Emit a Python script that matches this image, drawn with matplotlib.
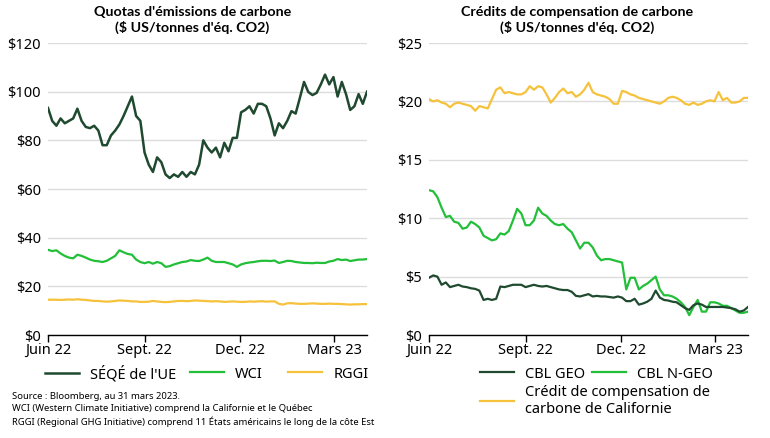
import numpy as np
import pandas as pd
import matplotlib
matplotlib.use("Agg")
import matplotlib.pyplot as plt

plt.rcParams['font.family'] = ['Noto Sans', 'DejaVu Sans']

# Grille de dates commune (tous les 4 jours, juin 2022 -> mars 2023)
dates = pd.date_range("2022-06-01", periods=77, freq="4D")

# Quotas d'émissions ($ US/t)
seqe_ue = [93.3, 88, 86, 89, 87, 88, 89, 93, 88, 85.5, 85, 86, 84, 78, 78, 82, 84, 86.5, 90, 94,
           98, 90, 88, 75, 70, 67, 73, 71, 66, 64.5, 66, 65, 67, 65, 67, 66, 70, 80, 77, 75,
           77, 73, 79, 75.5, 81, 81, 91.5, 92.5, 94, 91, 95, 95, 94, 89, 82, 87, 85, 88, 92, 91,
           97.4, 104, 99.9, 98.6, 99.5, 103, 107, 103, 106, 98, 104, 99, 92.5, 94, 99, 95, 100]
wci = [35, 34.5, 34.8, 33.5, 32.5, 31.8, 31.5, 33, 32.5, 31.8, 31, 30.5, 30.3, 30, 30.5, 31.5,
       32.5, 34.8, 34, 33.3, 33, 31, 30, 29.5, 30, 29.3, 30, 29.5, 28, 28.3, 29, 29.5, 30, 30.2,
       30.8, 30.5, 30.4, 31, 31.8, 30.5, 30, 30, 30, 29.5, 29, 28, 29, 29.5, 29.8, 30, 30.3, 30.5,
       30.5, 30.4, 30.6, 29.6, 30, 30.5, 30.4, 30, 29.8, 29.6, 29.6, 29.5, 29.7, 29.6, 29.6, 30.2,
       30.5, 31.2, 30.8, 31, 30.4, 30.7, 31, 31, 31.2]
rggi = [14.5, 14.5, 14.5, 14.4, 14.5, 14.6, 14.5, 14.7, 14.5, 14.4, 14.2, 14.0, 14.0, 13.8, 13.7,
        13.8, 14.0, 14.2, 14.1, 14.0, 13.8, 13.8, 13.6, 13.6, 13.7, 14.0, 13.8, 13.6, 13.5, 13.6,
        13.8, 14.0, 14.0, 13.9, 14.0, 14.2, 14.1, 14.0, 13.9, 13.8, 13.9, 13.8, 13.6, 13.7, 13.8,
        13.7, 13.6, 13.6, 13.8, 13.7, 13.8, 13.9, 13.7, 13.8, 13.8, 12.8, 12.5, 13.0, 13.1, 12.9,
        12.8, 12.8, 12.9, 13.0, 12.9, 12.8, 12.8, 12.9, 12.8, 12.8, 12.7, 12.6, 12.5, 12.6, 12.6,
        12.7, 12.7]

# Crédits de compensation ($ US/t)
cbl_geo = [4.9, 5.1, 5.0, 4.3, 4.5, 4.1, 4.2, 4.3, 4.15, 4.1, 4.0, 3.95, 3.8, 3.0, 3.1, 3.0, 3.1,
           4.15, 4.1, 4.2, 4.3, 4.3, 4.3, 4.1, 4.2, 4.3, 4.2, 4.15, 4.2, 4.1, 4.0, 3.9, 3.85, 3.85,
           3.7, 3.35, 3.3, 3.4, 3.5, 3.3, 3.35, 3.3, 3.3, 3.25, 3.2, 3.3, 3.2, 2.9, 2.9, 3.1, 2.6,
           2.7, 2.85, 3.1, 3.8, 3.2, 3.0, 2.95, 2.85, 2.8, 2.55, 2.3, 2.15, 2.55, 2.7, 2.6, 2.4, 2.4,
           2.4, 2.4, 2.4, 2.35, 2.3, 2.2, 2.0, 2.1, 2.4]
cbl_ngeo = [12.4, 12.3, 11.8, 10.9, 10.1, 10.2, 9.7, 9.6, 9.1, 9.2, 9.7, 9.5, 9.2, 8.5, 8.3, 8.1,
            8.2, 8.7, 8.6, 8.9, 9.8, 10.8, 10.4, 9.4, 9.4, 9.8, 10.9, 10.4, 10.2, 9.8, 9.5, 9.4,
            9.5, 9.1, 8.8, 8.1, 7.4, 7.9, 7.9, 7.5, 6.8, 6.4, 6.5, 6.5, 6.4, 6.3, 6.2, 3.9, 4.9,
            4.9, 3.9, 4.2, 4.4, 4.7, 5.0, 3.9, 3.4, 3.4, 3.3, 3.1, 2.8, 2.4, 1.7, 2.4, 3.0, 2.0,
            2.0, 2.8, 2.8, 2.7, 2.5, 2.5, 2.3, 2.1, 1.9, 1.9, 2.0]
californie = [20.2, 20.0, 20.1, 19.9, 19.8, 19.5, 19.8, 19.9, 19.8, 19.7, 19.6, 19.2, 19.6, 19.5,
              19.4, 20.2, 21.0, 21.2, 20.7, 20.8, 20.7, 20.6, 20.6, 20.8, 21.3, 21.0, 21.3, 21.2,
              20.6, 19.9, 20.3, 20.8, 21.1, 20.7, 20.8, 20.4, 20.6, 21.0, 21.6, 20.8, 20.6, 20.5,
              20.4, 20.2, 19.8, 19.8, 20.9, 20.8, 20.6, 20.5, 20.3, 20.2, 20.1, 20.0, 19.9, 19.8,
              20.0, 20.3, 20.4, 20.3, 20.1, 19.8, 19.7, 19.9, 19.7, 19.8, 20.0, 20.1, 20.0, 20.8,
              20.1, 20.3, 19.9, 19.9, 20.0, 20.3, 20.3]

tick_dates = pd.to_datetime(["2022-06-01", "2022-09-01", "2022-12-01", "2023-03-01"])
tick_labels = ["Juin 22", "Sept. 22", "Dec. 22", "Mars 23"]

VERT_FONCE = "#1f4a2f"
VERT = "#22bf38"
JAUNE = "#f6c23c"
W, H = 770, 438


def style_axe(ax, ymax, ystep):
    ax.set_xlim(pd.Timestamp("2022-06-01"), pd.Timestamp("2023-04-01"))
    ax.set_ylim(0, ymax)
    ax.set_yticks(np.arange(0, ymax + 1, ystep))
    ax.set_yticklabels(["$%d" % v for v in np.arange(0, ymax + 1, ystep)])
    ax.set_xticks(tick_dates)
    ax.set_xticklabels(tick_labels)
    ax.grid(axis="y", color="#dcdcdc", linewidth=1.0)
    ax.set_axisbelow(True)
    for s in ["top", "right", "left"]:
        ax.spines[s].set_visible(False)
    ax.spines["bottom"].set_color("black")
    ax.spines["bottom"].set_linewidth(1.0)
    ax.tick_params(axis="y", length=0, labelsize=10.5, pad=5)
    ax.tick_params(axis="x", length=5, width=1.0, labelsize=10.5, pad=1)


def entree(handle, label, x_px, y_px):
    # une entrée de légende placée à la main (en pixels depuis le coin haut-gauche)
    fig.legend([handle], [label], loc="center left", bbox_to_anchor=(x_px / W, 1 - y_px / H),
               frameon=False, fontsize=10.5, handlelength=2.3, handletextpad=0.8,
               borderpad=0, borderaxespad=0)


fig = plt.figure(figsize=(7.7, 4.38), dpi=100)
ax1 = fig.add_axes([48 / W, 1 - 335 / H, 319 / W, 292 / H])
ax2 = fig.add_axes([429 / W, 1 - 335 / H, 319 / W, 292 / H])

# Panneau gauche
l1, = ax1.plot(dates, seqe_ue, color=VERT_FONCE, lw=1.8)
l2, = ax1.plot(dates, wci, color=VERT, lw=1.6)
l3, = ax1.plot(dates, rggi, color=JAUNE, lw=1.6)
style_axe(ax1, 120, 20)

# Panneau droit
r3, = ax2.plot(dates, californie, color=JAUNE, lw=1.6)
r2, = ax2.plot(dates, cbl_ngeo, color=VERT, lw=1.6)
r1, = ax2.plot(dates, cbl_geo, color=VERT_FONCE, lw=1.6)
style_axe(ax2, 25, 5)

titre = dict(ha="center", va="top", fontsize=10.3, fontweight="bold", linespacing=1.3,
             family=["Lato", "DejaVu Sans"])
fig.text(0.25, 1 - 6 / H, "Quotas d'émissions de carbone\n($ US/tonnes d'éq. CO2)", **titre)
fig.text(0.75, 1 - 6 / H, "Crédits de compensation de carbone\n($ US/tonnes d'éq. CO2)", **titre)

entree(l1, "SÉQÉ de l'UE", 45, 374)
entree(l2, "WCI", 190, 374)
entree(l3, "RGGI", 288, 374)
entree(r1, "CBL GEO", 480, 374)
entree(r2, "CBL N-GEO", 592, 374)
entree(r3, "Crédit de compensation de\ncarbone de Californie", 480, 401)

fig.text(12 / W, 1 - 392 / H, "Source : Bloomberg, au 31 mars 2023.\n"
         "WCI (Western Climate Initiative) comprend la Californie et le Québec\n"
         "RGGI (Regional GHG Initiative) comprend 11 États américains le long de la côte Est",
         ha="left", va="top", fontsize=6.8, linespacing=1.45)

fig.savefig("out.png", dpi=100)
